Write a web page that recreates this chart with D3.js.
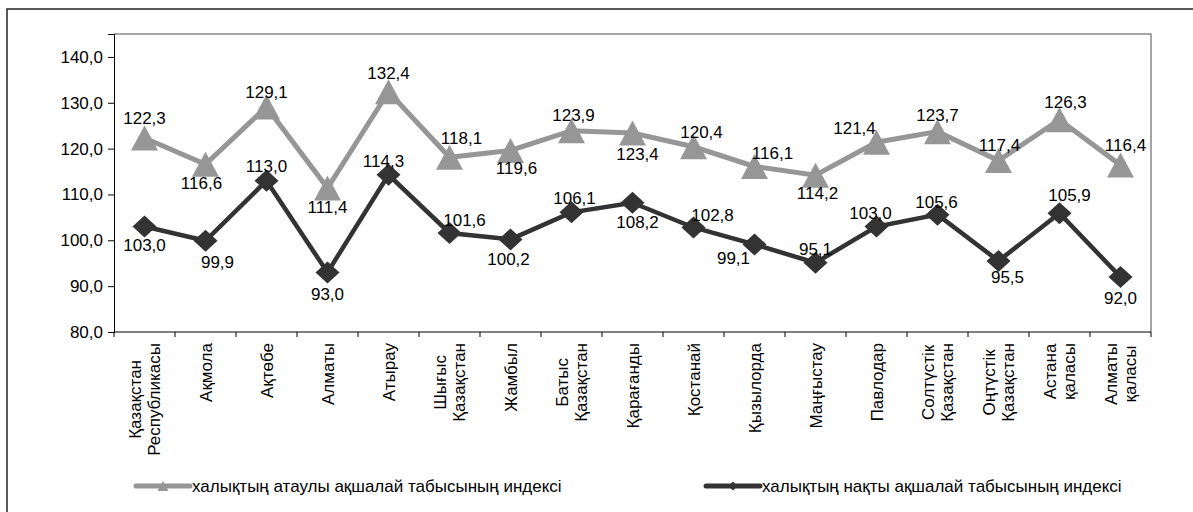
<!DOCTYPE html>
<html>
<head>
<meta charset="utf-8">
<script src="https://cdn.jsdelivr.net/npm/d3@7"></script>
<style>
  body { margin: 0; background: #fff; }
  text { font-family: "Liberation Sans", Arial, sans-serif; fill: #000; }
</style>
</head>
<body>
<div id="chart-area"></div>
<script>
// categories (regions), "\n" splits a label over two lines
let regions = ["Қазақстан\nРеспубликасы", "Ақмола", "Ақтөбе", "Алматы", "Атырау",
               "Шығыс\nҚазақстан", "Жамбыл", "Батыс\nҚазақстан", "Қарағанды", "Қостанай",
               "Қызылорда", "Маңғыстау", "Павлодар", "Солтүстік\nҚазақстан",
               "Оңтүстік\nҚазақстан", "Астана\nқаласы", "Алматы\nқаласы"];

let nominalIndex = [122.3, 116.6, 129.1, 111.4, 132.4, 118.1, 119.6, 123.9, 123.4,
                    120.4, 116.1, 114.2, 121.4, 123.7, 117.4, 126.3, 116.4];
let realIndex = [103.0, 99.9, 113.0, 93.0, 114.3, 101.6, 100.2, 106.1, 108.2,
                 102.8, 99.1, 95.1, 103.0, 105.6, 95.5, 105.9, 92.0];

let yTicks = [80, 90, 100, 110, 120, 130, 140];
let seriesNames = ["халықтың атаулы ақшалай табысының индексі",
                   "халықтың нақты ақшалай табысының индексі"];

// label placement (offset of label centre from its point)
let nominalLabelOffset = [[0,-20],[-4,19],[0,-15],[0,19],[0,-19],[12,-19],[6,18],[2,-16],[5,21],
                          [8,-15],[18,-13],[2,18],[-22,-14],[0,-17],[1,-16],[6,-18],[5,-20]];
let realLabelOffset = [[0,18],[12,21],[0,-15],[0,22],[-5,-14],[15,-13],[-2,20],[3,-14],[5,19],
                       [19,-12],[-21,14],[0,-14],[-6,-14],[-1,-13],[9,16],[10,-18],[0,21]];

let width = 1193;
let height = 512;
let margin = {left: 114, top: 34, right: 1151, bottom: 332};
let fontSize = "17px";

let svg = d3.select("#chart-area")
            .append("svg")
            .attr("width", width)
            .attr("height", height);

// outer frame
svg.append("rect")
   .attr("x", 7).attr("y", 9)
   .attr("width", 1200).attr("height", 600)
   .attr("fill", "none")
   .attr("stroke", "#222")
   .attr("stroke-width", 1.5);

let x = d3.scaleBand()
          .domain(d3.range(regions.length))
          .range([margin.left, margin.right]);

let y = d3.scaleLinear()
          .domain([80, 145])
          .range([margin.bottom, margin.top]);

let fmt = function(v){ return d3.format(".1f")(v).replace(".", ","); };

// plot area border (top and right, grey)
svg.append("path")
   .attr("d", "M" + margin.left + "," + margin.top + "H" + margin.right + "V" + margin.bottom)
   .attr("fill", "none")
   .attr("stroke", "#888")
   .attr("stroke-width", 1.5);

// y axis
let yAxis = svg.append("g")
               .attr("transform", "translate(" + margin.left + ",0)")
               .call(d3.axisLeft(y).tickValues(yTicks).tickSize(6).tickPadding(5).tickFormat(fmt));
yAxis.selectAll("text").style("font-size", fontSize);

// x axis: ticks between categories
let xAxis = svg.append("g")
               .attr("transform", "translate(0," + margin.bottom + ")");
xAxis.append("line")
     .attr("x1", margin.left).attr("x2", margin.right)
     .attr("stroke", "#000");
xAxis.selectAll(".tk")
     .data(d3.range(regions.length + 1))
     .enter()
     .append("line")
     .attr("x1", function(d){ return margin.left + d * x.bandwidth(); })
     .attr("x2", function(d){ return margin.left + d * x.bandwidth(); })
     .attr("y2", 5)
     .attr("stroke", "#000");

// rotated category labels, each line centred on the longest one
let catLabel = svg.selectAll(".cat")
                  .data(regions)
                  .enter()
                  .append("g")
                  .attr("class", "cat")
                  .attr("transform", function(d, i){
                      return "translate(" + (x(i) + x.bandwidth() / 2) + "," + (margin.bottom + 11) + ") rotate(-90)";
                  });
catLabel.each(function(d){
    let g = d3.select(this);
    let lines = d.split("\n");
    let texts = lines.map(function(line, j){
        return g.append("text")
                .style("font-size", fontSize)
                .attr("text-anchor", "middle")
                .attr("y", (j - (lines.length - 1) / 2) * 19 + 6)
                .text(line);
    });
    let maxLen = d3.max(texts, function(t){ return t.node().getComputedTextLength(); });
    texts.forEach(function(t){ t.attr("x", -maxLen / 2); });
});

let triangle = function(w, h){
    return "M0," + (-h / 2) + "L" + (w / 2) + "," + (h / 2) + "L" + (-w / 2) + "," + (h / 2) + "Z";
};
let diamond = function(w, h){
    return "M0," + (-h / 2) + "L" + (w / 2) + ",0L0," + (h / 2) + "L" + (-w / 2) + ",0Z";
};

let series = [
    {values: nominalIndex, offsets: nominalLabelOffset, color: "#969696", lw: 5, marker: triangle(27, 25)},
    {values: realIndex, offsets: realLabelOffset, color: "#333333", lw: 4.5, marker: diamond(24, 22)}
];

let line = d3.line()
             .x(function(d, i){ return x(i) + x.bandwidth() / 2; })
             .y(function(d){ return y(d); });

series.forEach(function(s){
    svg.append("path")
       .attr("d", line(s.values))
       .attr("fill", "none")
       .attr("stroke", s.color)
       .attr("stroke-width", s.lw)
       .attr("stroke-linejoin", "miter");

    svg.selectAll(null)
       .data(s.values)
       .enter()
       .append("path")
       .attr("d", s.marker)
       .attr("fill", s.color)
       .attr("transform", function(d, i){
           return "translate(" + (x(i) + x.bandwidth() / 2) + "," + y(d) + ")";
       });
});

series.forEach(function(s){
    svg.selectAll(null)
       .data(s.values)
       .enter()
       .append("text")
       .style("font-size", fontSize)
       .attr("text-anchor", "middle")
       .attr("x", function(d, i){ return x(i) + x.bandwidth() / 2 + s.offsets[i][0]; })
       .attr("y", function(d, i){ return y(d) + s.offsets[i][1] + 6; })
       .text(fmt);
});

// legend
let legendX = [136, 706];
let legend = svg.selectAll(".legend")
                .data(series)
                .enter()
                .append("g")
                .attr("class", "legend")
                .attr("transform", function(d, i){ return "translate(" + legendX[i] + ",486)"; });
legend.append("line")
      .attr("x2", 54)
      .attr("stroke", function(d){ return d.color; })
      .attr("stroke-width", 5)
      .attr("stroke-linecap", "round");
legend.append("path")
      .attr("transform", "translate(27,0)")
      .attr("d", function(d, i){ return i === 0 ? triangle(11, 10) : diamond(9, 9); })
      .attr("fill", function(d){ return d.color; });
legend.append("text")
      .attr("x", 56)
      .attr("y", 6)
      .style("font-size", fontSize)
      .text(function(d, i){ return seriesNames[i]; });
</script>
</body>
</html>
